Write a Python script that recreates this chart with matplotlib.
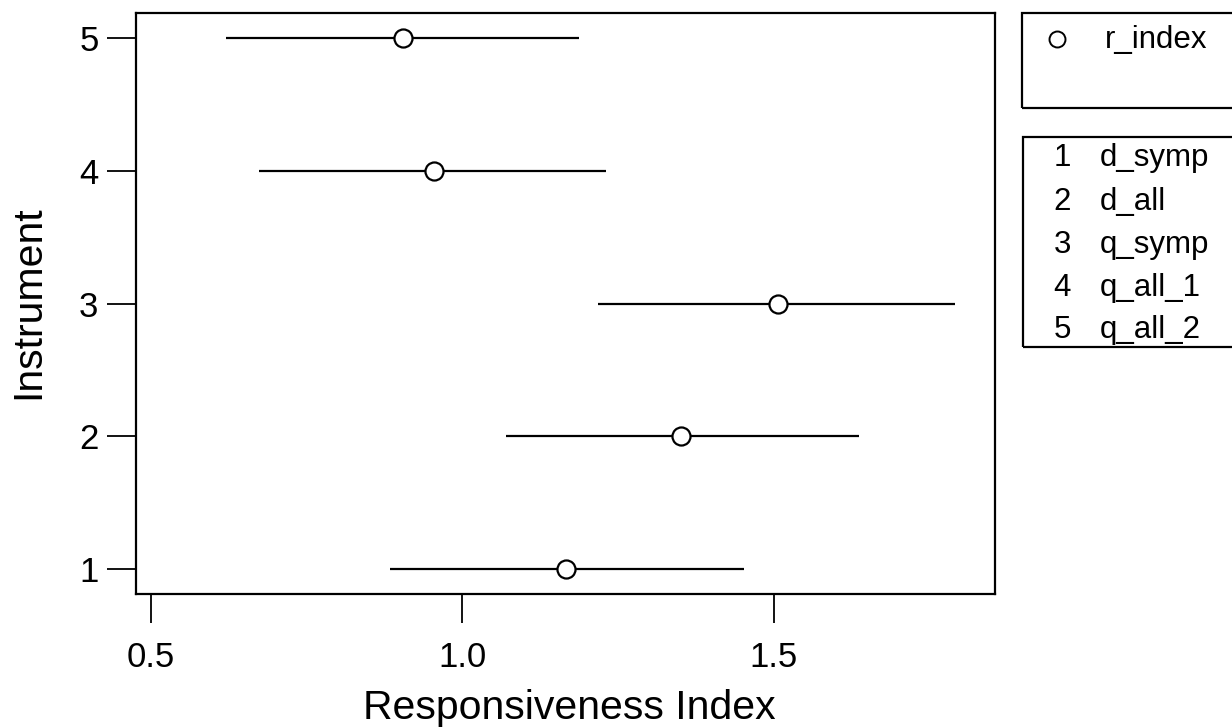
"""Responsiveness index per instrument, with interval bars."""
import matplotlib

matplotlib.use("Agg")
import matplotlib.pyplot as plt
from matplotlib.patches import Rectangle

instrument = [1, 2, 3, 4, 5]
instrument_names = ["d_symp", "d_all", "q_symp", "q_all_1", "q_all_2"]
r_index = [1.167, 1.351, 1.507, 0.954, 0.905]
lower = [0.884, 1.070, 1.217, 0.674, 0.621]
upper = [1.452, 1.636, 1.790, 1.230, 1.187]
x_ticks = [0.5, 1.0, 1.5]

plt.rcParams["font.family"] = ["Liberation Sans", "DejaVu Sans"]

fig = plt.figure(figsize=(12.32, 7.27), dpi=100)
ax = fig.add_axes([136 / 1232, 1 - 594 / 727, (995 - 136) / 1232, (594 - 13) / 727])

ax.hlines(instrument, lower, upper, color="black", linewidth=1.6)
ax.plot(r_index, instrument, "o", markersize=13, markerfacecolor="white",
        markeredgecolor="black", markeredgewidth=1.6, linestyle="none")

ax.set_xlim(0.476, 1.855)
ax.set_ylim(0.81, 5.19)
ax.set_xticks(x_ticks)
ax.set_xticklabels([f"{v:.1f}" for v in x_ticks])
ax.set_yticks(instrument)
ax.tick_params(axis="both", direction="out", length=21, width=1.3,
               labelsize=25)
ax.tick_params(axis="x", pad=13)
ax.tick_params(axis="y", pad=6)
for sp in ax.spines.values():
    sp.set_linewidth(1.6)

fig.text(569 / 1232, 1 - 708 / 727, "Responsiveness Index", fontsize=29.5,
         ha="center", va="center")
fig.text(28 / 1232, 1 - 302 / 727, "Instrument", fontsize=29.5,
         ha="center", va="center", rotation=90)

# legend boxes, cut off at the right edge like the original
W, H = 1232, 727
fig.patches.append(Rectangle((1022 / W, 1 - 108 / H), 260 / W, 95 / H,
                             transform=fig.transFigure, fill=False,
                             edgecolor="black", linewidth=1.6))
fig.patches.append(Rectangle((1023 / W, 1 - 347 / H), 260 / W, 210 / H,
                             transform=fig.transFigure, fill=False,
                             edgecolor="black", linewidth=1.6))
fig.lines.append(plt.Line2D([1057 / W], [1 - 39 / H], marker="o",
                            markersize=11.5, markerfacecolor="white",
                            markeredgecolor="black", markeredgewidth=1.4,
                            transform=fig.transFigure))
fig.text(1105 / W, 1 - 40 / H, "r_index", fontsize=22.5, ha="left", va="center")

rows_y = [158, 202, 245, 288, 330]
for num, name, yy in zip(instrument, instrument_names, rows_y):
    fig.text(1062 / W, 1 - yy / H, str(num), fontsize=22.5, ha="center", va="center")
    fig.text(1100 / W, 1 - yy / H, name, fontsize=22.5, ha="left", va="center")

fig.savefig("out.png", dpi=100)
plt.close(fig)
